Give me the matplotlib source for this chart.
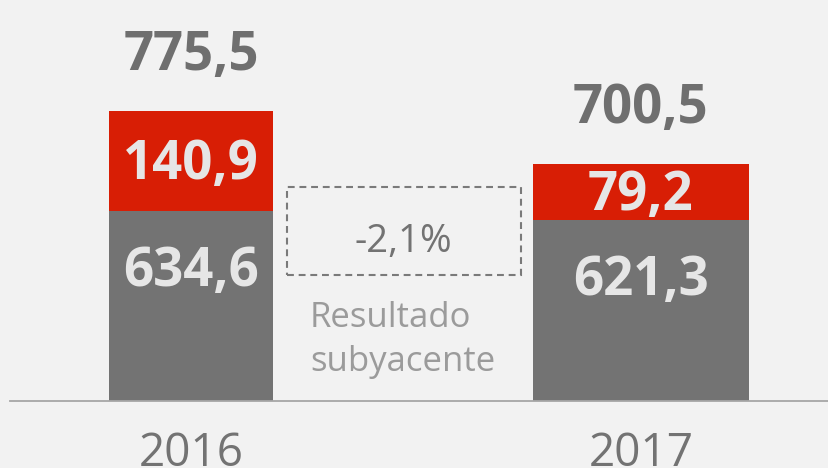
import matplotlib
matplotlib.use('Agg')
import matplotlib.pyplot as plt
from matplotlib.patches import Rectangle

years = ['2016', '2017']
base = [634.6, 621.3]
extra = [140.9, 79.2]
totals = [775.5, 700.5]
change_label = '-2,1%'
note_lines = ['Resultado', 'subyacente']


def fmt(v):
    return ('%.1f' % v).replace('.', ',')


plt.rcParams['font.family'] = ['Open Sans', 'DejaVu Sans']

W, H = 829, 468
fig = plt.figure(figsize=(W / 100, H / 100), dpi=100)
fig.patch.set_facecolor('#f2f2f2')

# truncated value axis: baseline sits at the bottom of the axes
ax = fig.add_axes([10 / W, (H - 401) / H, (W - 10) / W, 401 / H])
ax.set_facecolor('none')
ax.set_xlim(-0.402, 1.418)
ax.set_ylim(366.5, 931.3)

x = list(range(len(years)))
widths = [0.364, 0.48]
ax.bar(x, base, width=widths, color='#737373', zorder=2)
ax.bar(x, extra, bottom=base, width=widths, color='#d81e05', zorder=2)

for s in ['top', 'left', 'right']:
    ax.spines[s].set_visible(False)
ax.spines['bottom'].set_color('#a6a6a6')
ax.spines['bottom'].set_linewidth(1.3)
ax.set_xticks([])
ax.set_yticks([])

for i in x:
    top = base[i] + extra[i]
    ax.annotate(fmt(totals[i]), xy=(i, top), xytext=(0, 41), textcoords='offset pixels',
                ha='center', va='baseline', fontsize=38, fontweight='bold', color='#6f6f6f')
    ax.annotate(fmt(extra[i]), xy=(i, base[i] + extra[i] / 2), xytext=(0, -18),
                textcoords='offset pixels', ha='center', va='baseline',
                fontsize=38, fontweight='bold', color='#e6e6e6')
    ax.annotate(fmt(base[i]), xy=(i, base[i]), xytext=(0, -75), textcoords='offset pixels',
                ha='center', va='baseline', fontsize=38, fontweight='bold', color='#e6e6e6')
    ax.annotate(years[i], xy=(i, 2), xycoords=('data', 'figure pixels'),
                ha='center', va='baseline', fontsize=33, color='#737373',
                annotation_clip=False)

# dashed box with the change
box = Rectangle((287 / W, (H - 275) / H), (521 - 287) / W, (275 - 187) / H,
                transform=fig.transFigure, fill=False, edgecolor='#7a7a7a',
                linewidth=1.5, linestyle=(0, (3.3, 2.3)))
fig.patches.append(box)
fig.text(403.5 / W, (H - 252) / H, change_label, ha='center', va='baseline',
         fontsize=27.5, color='#737373')
fig.text(310 / W, (H - 327) / H, note_lines[0], ha='left', va='baseline',
         fontsize=25, color='#9b9b9b')
fig.text(310 / W, (H - 371) / H, note_lines[1], ha='left', va='baseline',
         fontsize=25, color='#9b9b9b')

fig.savefig('out.png', dpi=100, facecolor=fig.get_facecolor())
